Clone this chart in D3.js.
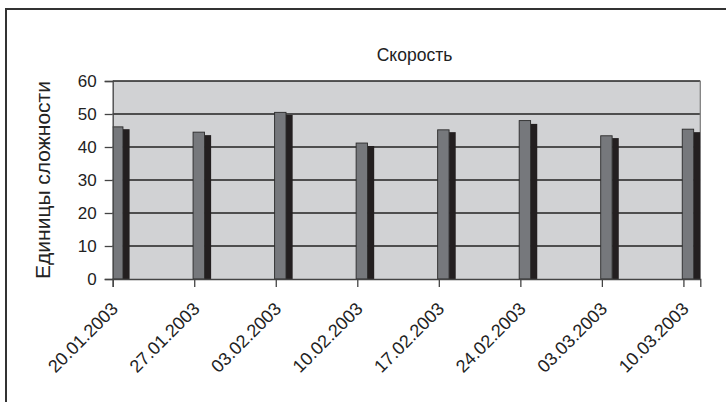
<!DOCTYPE html>
<html><head><meta charset="utf-8">
<script src="https://cdn.jsdelivr.net/npm/d3@7"></script>
<style>body{margin:0;background:#fff}svg{display:block}text{font-family:"Liberation Sans",Arial,sans-serif;fill:#222}</style>
</head><body><svg id="c" width="726" height="402"></svg>
<script>
const dates = ["20.01.2003","27.01.2003","03.02.2003","10.02.2003","17.02.2003","24.02.2003","03.03.2003","10.03.2003"];
const seriesA = [46.1, 44.5, 50.5, 41.2, 45.2, 48.0, 43.4, 45.4];
const seriesB = [45.4, 43.6, 49.7, 40.3, 44.5, 47.0, 42.7, 44.5];
const yTicks = [0, 10, 20, 30, 40, 50, 60];
const title = "Скорость";
const yTitle = "Единицы сложности";

const parse = d3.utcParse("%d.%m.%Y");
const DAY = 864e5;
const dt = dates.map(parse);
const svg = d3.select("#c");
const m = {l: 112.7, r: 700.3, t: 81, b: 279};

const x = d3.scaleUtc()
  .domain([dt[0], new Date(+dt[dt.length-1] + 1.45*DAY)])
  .range([m.l, m.r]);
const y = d3.scaleLinear().domain([0, 60]).range([m.b, m.t]);

// outer border
svg.append("rect").attr("x",6).attr("y",9).attr("width",740).attr("height",420)
  .attr("fill","none").attr("stroke","#333").attr("stroke-width",2);

// plot bg
svg.append("rect").attr("x",m.l).attr("y",m.t).attr("width",m.r-m.l).attr("height",m.b-m.t)
  .attr("fill","#d1d2d4");

// grid
svg.append("g").selectAll("line").data(yTicks.filter(v=>v>0)).join("line")
  .attr("x1",m.l).attr("x2",m.r).attr("y1",d=>y(d)).attr("y2",d=>y(d))
  .attr("stroke","#222").attr("stroke-width",1.3);
svg.append("line").attr("x1",m.r).attr("x2",m.r).attr("y1",m.t).attr("y2",m.b)
  .attr("stroke","#808080").attr("stroke-width",1.3);

svg.append("clipPath").attr("id","pc").append("rect")
  .attr("x",m.l).attr("y",m.t).attr("width",m.r-m.l).attr("height",m.b-m.t);
const bars = svg.append("g").attr("clip-path","url(#pc)");
const off = (d,k)=> new Date(+d + k*DAY);
bars.selectAll("rect.b").data(dt).join("rect").attr("class","b")
  .attr("x",d=>x(off(d,0.88))).attr("width",d=>x(off(d,1.45))-x(off(d,0.88)))
  .attr("y",(d,i)=>y(seriesB[i])).attr("height",(d,i)=>y(0)-y(seriesB[i]))
  .attr("fill","#231f20");
bars.selectAll("rect.a").data(dt).join("rect").attr("class","a")
  .attr("x",d=>x(off(d,-0.1))).attr("width",d=>x(off(d,0.88))-x(off(d,-0.1)))
  .attr("y",(d,i)=>y(seriesA[i])).attr("height",(d,i)=>y(0)-y(seriesA[i]))
  .attr("fill","#76787c").attr("stroke","#2a2a2a").attr("stroke-width",0.9);

// axes
const yAxis = d3.axisLeft(y).tickValues(yTicks).tickSize(8).tickPadding(8);
const gy = svg.append("g").attr("transform",`translate(${m.l},0)`).call(yAxis);
gy.select(".domain").attr("stroke","#444").attr("stroke-width",1.3);
gy.selectAll(".tick line").attr("stroke","#444").attr("stroke-width",1.3);
gy.selectAll("text").style("font-size","17px").attr("fill","#222");

const xAxis = d3.axisBottom(x).tickValues(dt).tickSize(8).tickFormat(d3.utcFormat("%d.%m.%Y"));
const gx = svg.append("g").attr("transform",`translate(0,${m.b})`).call(xAxis);
gx.select(".domain").attr("stroke","#444").attr("stroke-width",1.3);
gx.selectAll(".tick line").attr("stroke","#444").attr("stroke-width",1.3);
gx.selectAll("text").style("font-size","18px").attr("fill","#222")
  .attr("text-anchor","end").attr("dy",null).attr("y",null)
  .attr("transform","translate(6,31) rotate(-45)");

svg.append("text").attr("x",(m.l+m.r)/2+8).attr("y",61).attr("text-anchor","middle")
  .style("font-size","17.5px").text(title);
svg.append("text").attr("transform",`translate(50,${(m.t+m.b)/2}) rotate(-90)`)
  .attr("text-anchor","middle").style("font-size","21px").text(yTitle);
</script></body></html>
